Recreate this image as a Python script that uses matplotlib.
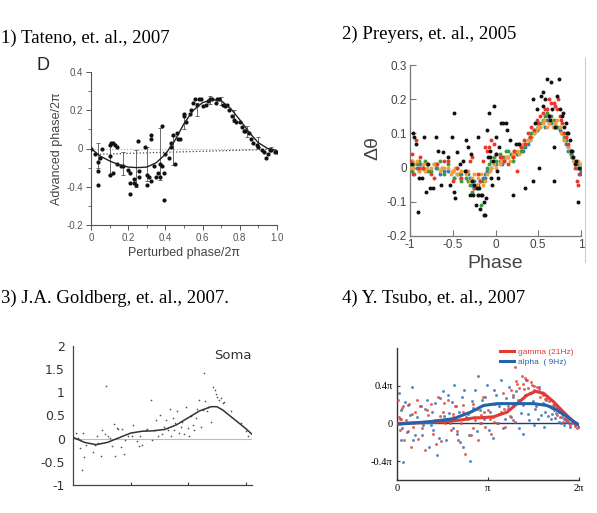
import matplotlib
matplotlib.use("Agg")
import matplotlib.pyplot as plt
from matplotlib.lines import Line2D

# ---------------- Panel 1 data (Tateno) ----------------
p1_x = [0.00, 0.02, 0.04, 0.04, 0.04, 0.05, 0.06, 0.10, 0.11, 0.12, 0.13, 0.14, 0.10, 0.12, 0.10, 0.14,
        0.16, 0.17, 0.20, 0.21, 0.21, 0.21, 0.23, 0.23, 0.24, 0.25, 0.26, 0.26, 0.29, 0.30, 0.30, 0.31,
        0.32, 0.32, 0.32, 0.34, 0.35, 0.36, 0.37, 0.37, 0.38, 0.38, 0.39, 0.39, 0.40, 0.42, 0.43, 0.43,
        0.44, 0.45, 0.46, 0.47, 0.48, 0.50, 0.50, 0.51, 0.53, 0.54, 0.55, 0.56, 0.57, 0.58, 0.59, 0.60,
        0.62, 0.63, 0.64, 0.65, 0.67, 0.68, 0.69, 0.71, 0.72, 0.73, 0.74, 0.76, 0.77, 0.78, 0.80, 0.81,
        0.82, 0.83, 0.85, 0.86, 0.87, 0.89, 0.90, 0.92, 0.93, 0.94, 0.95, 0.96, 0.97, 0.99, 1.00]
p1_y = [0.00, -0.03, -0.07, -0.12, -0.19, -0.05, 0.00, 0.02, 0.03, 0.03, 0.02, 0.01, -0.14, -0.13, -0.04, -0.08,
        -0.09, -0.09, -0.11, -0.13, -0.18, -0.24, -0.16, -0.18, -0.19, 0.04, -0.12, -0.15, 0.01, -0.14, -0.19, -0.15,
        0.07, 0.05, -0.17, -0.09, -0.15, -0.13, -0.15, -0.08, 0.12, -0.09, -0.13, -0.27, -0.03, -0.05, 0.01, 0.03,
        0.07, -0.08, 0.08, 0.05, 0.05, 0.18, 0.17, 0.14, 0.18, 0.20, 0.24, 0.26, 0.23, 0.26, 0.26, 0.22,
        0.23, 0.25, 0.26, 0.26, 0.24, 0.26, 0.26, 0.23, 0.22, 0.23, 0.20, 0.17, 0.15, 0.14, 0.14, 0.11,
        0.09, 0.09, 0.08, 0.05, 0.03, 0.02, 0.01, -0.01, -0.02, -0.05, -0.03, -0.01, -0.01, -0.02, -0.02]
p1_fit_x = [0.0, 0.05, 0.1, 0.15, 0.2, 0.25, 0.3, 0.35, 0.4, 0.45, 0.5, 0.55, 0.6, 0.65, 0.7, 0.75, 0.8, 0.85, 0.9, 0.95, 1.0]
p1_fit_y = [0.0, -0.04, -0.065, -0.085, -0.097, -0.10, -0.097, -0.075, -0.03, 0.04, 0.13, 0.20, 0.24, 0.255, 0.25, 0.21, 0.15, 0.085, 0.03, 0.0, -0.01]
p1_eb_x = [0.04, 0.10, 0.17, 0.24, 0.30, 0.37, 0.44, 0.50, 0.57, 0.64, 0.70, 0.77, 0.84, 0.90, 0.97]
p1_eb_y = [-0.035, -0.06, -0.08, -0.105, -0.08, -0.03, -0.01, 0.14, 0.205, 0.255, 0.25, 0.17, 0.09, 0.035, 0.0]
p1_eb_e = [0.065, 0.08, 0.06, 0.095, 0.09, 0.135, 0.075, 0.04, 0.035, 0.02, 0.02, 0.03, 0.03, 0.025, 0.01]
p1_ref_x = [0.0, 1.0]
p1_ref_y = [0.0, 0.0]
p1_base_x = [0.03, 0.95]
p1_base_y = [-0.03, -0.005]
p1_yticks = [0.4, 0.2, 0.0, -0.2, -0.4]
p1_yticklabels = ["0.4", "0.2", "0", "-0.4", "-0.2"]
p1_xticks = [0, 0.2, 0.4, 0.6, 0.8, 1.0]
p1_xticklabels = ["0", "0.2", "0.4", "0.6", "0.8", "1.0"]

# ---------------- Panel 2 data (Preyers) ----------------
p2_black_x = [-0.96, -0.95, -0.93, -0.91, -0.89, -0.84, -0.81, -0.77, -0.73, -0.70, -0.67, -0.64, -0.61, -0.51,
              -0.49, -0.48, -0.47, -0.45, -0.38, -0.34, -0.30, -0.29, -0.26, -0.23, -0.21, -0.20, -0.18, -0.16,
              -0.14, -0.12, -0.10, -0.08, -0.07, -0.05, -0.04, -0.02, 0.00, 0.01, 0.03, 0.06, 0.09, 0.14, 0.17,
              0.21, 0.28, 0.35, 0.44, 0.44, 0.48, 0.51, 0.53, 0.56, 0.60, 0.65, 0.68, 0.69, 0.74, 0.72, 0.76,
              0.79, 0.82, 0.85, 0.87, 0.89, 0.91, 0.96, 0.93, -0.22, -0.28, 0.55, 0.62,
              -0.98, -0.86, -0.79, -0.56, -0.53, -0.42, -0.36, -0.32, -0.25, -0.19, -0.17, -0.13, -0.11, -0.09,
              -0.06, -0.03, 0.02, 0.04, 0.12, 0.24, 0.46, 0.58, 0.64, 0.66, 0.70, 0.78, 0.80, 0.84, 0.88, 0.94, 0.98]
p2_black_y = [0.10, 0.09, 0.07, -0.13, -0.03, 0.09, -0.07, -0.06, -0.06, 0.09, 0.05, -0.05, 0.045, 0.09,
              0.16, -0.07, -0.09, 0.045, 0.02, 0.08, -0.08, 0.04, -0.08, -0.11, 0.09, -0.08, -0.12, -0.08,
              -0.14, -0.14, 0.11, 0.16, 0.03, -0.03, -0.05, 0.18, 0.04, 0.09, -0.03, 0.13, 0.13, 0.11, 0.08,
              -0.08, 0.07, -0.06, -0.04, 0.20, 0.17, 0.00, 0.21, 0.22, 0.26, 0.25, 0.06, -0.04, 0.26, 0.21, 0.17,
              0.16, 0.13, 0.10, 0.08, 0.05, 0.03, -0.10, 0.01, -0.06, -0.04, 0.18, 0.15,
              0.01, -0.03, 0.01, 0.03, -0.05, 0.01, -0.01, 0.06, -0.05, -0.06, -0.08, -0.10, -0.09, 0.03,
              0.05, 0.02, -0.01, 0.06, 0.13, 0.07, 0.13, 0.20, 0.14, 0.17, 0.12, 0.15, 0.12, 0.10, 0.05, 0.02, 0.00]
p2_red_x = [-1.0, -0.97, -0.93, -0.88, -0.85, -0.75, -0.68, -0.6, -0.5, -0.45, -0.4, -0.3, -0.25, -0.2, -0.15, -0.1,
            -0.05, 0.0, 0.05, 0.1, 0.2, 0.25, 0.3, 0.35, 0.4, 0.45, 0.5, 0.55, 0.6, 0.63, 0.65, 0.7, 0.72, 0.73,
            0.75, 0.78, 0.8, 0.85, 0.9, 0.95, 0.97, 1.0,
            -0.98, -0.9, -0.8, -0.72, -0.55, -0.35, -0.28, -0.18, -0.12, -0.08, -0.02, 0.08, 0.15, 0.22, 0.28, 0.33,
            0.38, 0.42, 0.48, 0.52, 0.58, 0.62, 0.68, 0.77, 0.83, 0.88, 0.93, 0.99]
p2_red_y = [0.02, -0.02, 0.08, 0.03, 0.0, -0.02, 0.01, 0.02, -0.04, 0.0, -0.03, 0.02, -0.06, -0.02, 0.02, 0.05,
            0.08, 0.04, 0.03, 0.02, 0.03, -0.01, 0.06, 0.07, 0.09, 0.11, 0.13, 0.16, 0.17, 0.15, 0.19, 0.18, 0.17, 0.20,
            0.15, 0.13, 0.10, 0.07, 0.03, -0.04, -0.05, 0.0,
            0.04, 0.0, 0.01, -0.03, 0.02, -0.01, 0.03, -0.04, 0.06, 0.06, 0.07, 0.03, 0.01, 0.05, 0.07, 0.08,
            0.10, 0.12, 0.14, 0.15, 0.17, 0.20, 0.19, 0.14, 0.09, 0.05, 0.0, -0.02]
p2_blue_x = [-1.0, -0.95, -0.9, -0.85, -0.8, -0.7, -0.65, -0.6, -0.5, -0.45, -0.4, -0.35, -0.3, -0.25, -0.2, -0.15,
             -0.1, -0.05, 0.0, 0.05, 0.1, 0.15, 0.2, 0.3, 0.35, 0.4, 0.45, 0.5, 0.55, 0.6, 0.65, 0.7, 0.75, 0.8,
             0.85, 0.9, 0.95, 1.0,
             -0.98, -0.92, -0.88, -0.78, -0.72, -0.62, -0.55, -0.48, -0.42, -0.32, -0.28, -0.22, -0.18, -0.12, -0.08,
             -0.02, 0.08, 0.12, 0.25, 0.32, 0.38, 0.42, 0.48, 0.52, 0.58, 0.62, 0.68, 0.72, 0.78, 0.82, 0.88, 0.92, 0.98]
p2_blue_y = [0.0, 0.01, -0.01, 0.0, 0.01, 0.0, -0.02, -0.01, -0.01, -0.02, -0.02, -0.01, -0.03, -0.04, -0.05, -0.03,
             -0.01, 0.0, 0.01, 0.02, 0.02, 0.03, 0.03, 0.05, 0.06, 0.08, 0.10, 0.12, 0.13, 0.14, 0.13, 0.12, 0.11, 0.08,
             0.05, 0.03, 0.0, -0.01,
             0.02, 0.0, 0.01, -0.01, 0.01, 0.0, -0.01, -0.03, -0.02, -0.02, -0.05, -0.06, -0.04, -0.03, -0.01,
             0.01, 0.01, 0.03, 0.04, 0.05, 0.07, 0.09, 0.11, 0.12, 0.12, 0.13, 0.12, 0.12, 0.10, 0.07, 0.04, 0.02, -0.02]
p2_green_x = [-1.0, -0.97, -0.95, -0.9, -0.85, -0.8, -0.7, -0.65, -0.6, -0.5, -0.45, -0.4, -0.35, -0.3, -0.25, -0.2,
              -0.17, -0.15, -0.1, -0.05, 0.0, 0.05, 0.1, 0.15, 0.2, 0.3, 0.35, 0.4, 0.45, 0.5, 0.55, 0.6, 0.65, 0.7,
              0.75, 0.8, 0.85, 0.9, 0.95, 1.0,
              -0.98, -0.92, -0.82, -0.75, -0.68, -0.55, -0.48, -0.42, -0.32, -0.28, -0.22, -0.12, -0.08, -0.02, 0.08,
              0.12, 0.18, 0.25, 0.32, 0.38, 0.42, 0.48, 0.52, 0.58, 0.62, 0.68, 0.72, 0.78, 0.82, 0.88, 0.92, 0.98]
p2_green_y = [0.01, 0.0, -0.02, 0.02, 0.0, -0.01, 0.01, 0.02, -0.02, -0.01, 0.0, -0.04, -0.03, -0.05, -0.06, -0.08,
              -0.11, -0.04, 0.0, 0.02, 0.02, 0.04, 0.03, 0.05, 0.02, 0.05, 0.07, 0.09, 0.11, 0.12, 0.14, 0.16, 0.15, 0.13,
              0.12, 0.09, 0.06, 0.03, 0.01, 0.01,
              -0.01, 0.01, 0.02, -0.01, 0.0, 0.01, -0.03, -0.02, -0.04, -0.07, -0.05, -0.02, 0.01, 0.03, 0.03,
              0.05, 0.04, 0.04, 0.06, 0.08, 0.10, 0.11, 0.13, 0.15, 0.15, 0.14, 0.12, 0.10, 0.08, 0.04, 0.02, 0.0]
p2_orange_x = [-1.0, -0.98, -0.95, -0.9, -0.85, -0.8, -0.75, -0.7, -0.65, -0.6, -0.55, -0.5, -0.45, -0.4, -0.35, -0.3,
               -0.25, -0.2, -0.15, -0.1, -0.05, 0.0, 0.05, 0.1, 0.15, 0.2, 0.25, 0.3, 0.35, 0.4, 0.45, 0.5, 0.55,
               0.6, 0.65, 0.7, 0.75, 0.8, 0.85, 0.9, 0.95, 1.0,
               -0.97, -0.92, -0.87, -0.82, -0.72, -0.62, -0.52, -0.47, -0.42, -0.32, -0.27, -0.22, -0.17, -0.12,
               -0.07, -0.02, 0.07, 0.12, 0.17, 0.22, 0.28, 0.32, 0.38, 0.42, 0.47, 0.52, 0.57, 0.62, 0.67, 0.72,
               0.77, 0.82, 0.87, 0.92, 0.97]
p2_orange_y = [0.0, 0.02, 0.01, -0.01, 0.01, 0.0, 0.0, 0.01, -0.01, 0.0, 0.0, -0.01, -0.02, -0.01, -0.02, -0.04,
               -0.02, -0.03, -0.05, -0.02, 0.0, 0.0, 0.01, 0.02, 0.03, 0.04, 0.05, 0.06, 0.07, 0.08, 0.10, 0.12, 0.13,
               0.12, 0.14, 0.13, 0.12, 0.08, 0.06, 0.03, 0.0, 0.01,
               0.0, 0.02, 0.0, -0.01, 0.01, 0.0, -0.02, 0.0, -0.03, -0.01, -0.03, -0.05, -0.02, -0.04,
               -0.01, 0.01, 0.02, 0.03, 0.02, 0.05, 0.04, 0.07, 0.08, 0.09, 0.11, 0.12, 0.14, 0.13, 0.12, 0.14,
               0.10, 0.09, 0.05, 0.02, 0.02]
p2_ticks_y = [-0.2, -0.1, 0, 0.1, 0.2, 0.3]
p2_ticklabels_y = ["-0.2", "-0.1", "0", "0.1", "0.2", "0.3"]
p2_ticks_x = [-1, -0.5, 0, 0.5, 1]
p2_ticklabels_x = ["-1", "-0.5", "0", "0.5", "1"]

# ---------------- Panel 3 data (Goldberg) ----------------
p3_x = [0.06, 0.09, 0.12, 0.13, 0.15, 0.18, 0.19, 0.23, 0.34, 0.38, 0.41, 0.44, 0.48, 0.50, 0.56, 0.57, 0.61, 0.64,
        0.67, 0.71, 0.73, 0.76, 0.79, 0.83, 0.85, 0.88, 0.91, 0.96, 1.02, 1.05, 1.11, 1.14, 1.17, 1.20, 1.26, 1.29,
        1.35, 1.37, 1.42, 1.45, 1.47, 1.52, 1.55, 1.58, 1.61, 1.65, 1.68, 1.70, 1.73, 1.75, 1.78, 1.81, 1.84, 1.87,
        1.90, 1.93, 1.96, 1.99, 2.02, 2.05, 2.08, 2.11, 2.13, 2.16, 2.19, 2.22, 2.25, 2.27, 2.29, 2.33, 2.35, 2.39,
        2.43, 2.46, 2.49, 2.51, 2.54, 2.57, 2.60, 2.63, 2.75, 2.92, 3.01, 3.04]
p3_y = [0.12, 0.01, -0.02, -0.20, -0.67, 0.12, -0.40, -0.13, -0.29, -0.13, 0.05, -0.09, -0.37, 0.19, 0.09, 1.14, 0.05, 0.01,
        -0.16, 0.32, -0.38, 0.23, 0.21, -0.18, 0.21, -0.34, -0.02, 0.05, 0.05, 0.30, -0.06, -0.16, 0.05, -0.13, 0.19, 0.21,
        0.84, -0.02, 0.19, 0.41, 0.05, 0.52, 0.09, 0.26, 0.41, 0.19, 0.64, 0.05, 0.44, 0.19, 0.34, 0.59, 0.12, 0.26,
        0.37, 0.09, 0.69, 0.23, 0.05, 0.48, 0.30, 0.19, 0.44, 0.64, 0.84, 0.26, 0.62, 1.42, 0.82, 0.59, 0.69, 0.37,
        1.11, 1.04, 0.97, 0.91, 0.84, 0.87, 0.77, 0.80, 0.59, 0.34, 0.16, 0.06]
p3_fit_x = [0.0, 0.2, 0.4, 0.6, 0.8, 1.0, 1.2, 1.4, 1.6, 1.8, 2.0, 2.2, 2.4, 2.5, 2.6, 2.8, 3.0, 3.14]
p3_fit_y = [0.03, -0.08, -0.13, -0.08, 0.02, 0.12, 0.16, 0.17, 0.20, 0.30, 0.45, 0.60, 0.69, 0.69, 0.62, 0.42, 0.22, 0.06]
p3_ref_x = [0.0, 3.14]
p3_ref_y = [0.0, 0.0]
p3_yticks = [-1, -0.5, 0, 0.5, 1, 1.5, 2]
p3_yticklabels = ["-1", "-0.5", "0", "0.5", "1", "1.5", "2"]
p3_xticks = [1, 2, 3]

# ---------------- Panel 4 data (Tsubo), x and y in units of pi ----------------
p4_blue_x = [0.02, 0.04, 0.04, 0.07, 0.09, 0.11, 0.14, 0.16, 0.18, 0.22, 0.25, 0.27, 0.29, 0.33, 0.35, 0.38, 0.40,
             0.44, 0.47, 0.49, 0.51, 0.54, 0.57, 0.60, 0.63, 0.66, 0.68, 0.71, 0.73, 0.76, 0.79, 0.80, 0.84, 0.86,
             0.89, 0.92, 0.93, 0.96, 0.99, 1.01, 1.04, 1.07, 1.10, 1.12, 1.14, 1.17, 1.20, 1.23, 1.25, 1.28, 1.31,
             1.34, 1.36, 1.39, 1.42, 1.45, 1.47, 1.50, 1.53, 1.56, 1.58, 1.61, 1.64, 1.67, 1.69, 1.72, 1.75, 1.78,
             1.81, 1.84, 1.87, 1.90, 1.92, 1.96, 2.00,
             0.03, 0.06, 0.12, 0.20, 0.24, 0.31, 0.37, 0.42, 0.46, 0.52, 0.56, 0.61, 0.65, 0.69, 0.74, 0.78, 0.82,
             0.88, 0.91, 0.97, 1.02, 1.06, 1.09, 1.15, 1.19, 1.22, 1.27, 1.30, 1.33, 1.38, 1.41, 1.44, 1.49, 1.52,
             1.55, 1.60, 1.63, 1.66, 1.70, 1.74, 1.77, 1.80, 1.83, 1.86, 1.89, 1.93, 1.97]
p4_blue_y = [0.32, 0.14, -0.18, -0.41, 0.23, -0.09, 0.09, 0.39, -0.18, 0.07, 0.19, -0.12, -0.02, 0.25, -0.25, 0.12, -0.07,
             -0.34, 0.27, 0.02, 0.34, -0.18, 0.11, 0.23, 0.41, -0.11, 0.12, 0.28, -0.25, 0.07, -0.12, -0.40, 0.16, 0.35,
             0.50, 0.00, 0.25, 0.05, 0.41, -0.07, 0.21, 0.35, 0.00, 0.18, 0.46, -0.05, 0.27, 0.39, 0.07, 0.19, 0.34,
             -0.05, 0.11, -0.11, 0.46, 0.04, 0.32, -0.02, 0.18, 0.39, 0.09, -0.04, 0.25, 0.18, 0.05, 0.19, 0.11, 0.02,
             0.07, -0.02, 0.04, -0.04, 0.00, -0.02, -0.04,
             0.05, -0.05, 0.20, -0.12, 0.02, 0.15, -0.02, 0.22, -0.15, 0.08, 0.30, -0.05, 0.18, -0.20, 0.35, 0.10, 0.24,
             -0.08, 0.14, 0.28, 0.12, -0.15, 0.30, 0.22, 0.05, 0.15, 0.28, 0.02, 0.25, 0.20, 0.30, 0.10, 0.24, 0.15,
             0.05, 0.22, 0.12, 0.08, 0.10, 0.06, 0.15, 0.00, 0.05, 0.02, 0.00, 0.02, 0.00]
p4_red_x = [0.01, 0.02, 0.03, 0.05, 0.08, 0.10, 0.13, 0.15, 0.18, 0.20, 0.23, 0.26, 0.29, 0.31, 0.34, 0.37, 0.40, 0.42,
            0.45, 0.48, 0.51, 0.53, 0.56, 0.59, 0.62, 0.64, 0.67, 0.70, 0.73, 0.75, 0.78, 0.81, 0.84, 0.86, 0.89, 0.92,
            0.95, 0.97, 1.00, 1.03, 1.05, 1.08, 1.11, 1.14, 1.16, 1.19, 1.22, 1.25, 1.27, 1.30, 1.32, 1.35, 1.37, 1.40,
            1.43, 1.46, 1.48, 1.51, 1.54, 1.57, 1.59, 1.62, 1.65, 1.68, 1.70, 1.73, 1.76, 1.79, 1.82, 1.86, 1.90, 1.94,
            1.98,
            0.04, 0.07, 0.12, 0.17, 0.22, 0.27, 0.33, 0.36, 0.43, 0.47, 0.52, 0.58, 0.61, 0.66, 0.72, 0.77, 0.83,
            0.88, 0.91, 0.96, 1.02, 1.07, 1.12, 1.18, 1.24, 1.28, 1.31, 1.34, 1.38, 1.41, 1.44, 1.47, 1.50, 1.53,
            1.56, 1.60, 1.63, 1.67, 1.71, 1.75, 1.78, 1.81, 1.85, 1.88, 1.92, 1.96]
p4_red_y = [0.25, 0.07, -0.07, 0.16, -0.18, 0.04, 0.21, -0.25, -0.04, 0.12, -0.16, 0.19, 0.02, -0.28, 0.09, 0.21, -0.11, 0.04,
            0.28, -0.19, 0.12, 0.00, 0.25, -0.07, 0.07, 0.19, -0.18, 0.00, 0.12, -0.32, 0.05, -0.12, 0.21, 0.04, -0.18, 0.09,
            0.28, -0.04, 0.14, -0.11, 0.07, 0.21, 0.00, 0.12, 0.32, -0.04, 0.18, 0.35, 0.04, 0.60, 0.42, 0.25, 0.50, 0.37,
            0.46, 0.32, 0.41, 0.35, 0.39, 0.28, 0.32, 0.21, 0.27, 0.19, 0.16, 0.14, 0.09, 0.07, 0.02, 0.04, -0.02, 0.00,
            -0.05,
            0.05, 0.18, -0.08, 0.10, 0.25, -0.05, 0.14, 0.02, -0.22, 0.08, 0.22, 0.00, 0.10, -0.08, 0.20, 0.06, -0.05,
            0.15, 0.00, 0.12, 0.05, 0.02, 0.10, 0.15, 0.08, 0.30, 0.45, 0.38, 0.42, 0.48, 0.38, 0.44, 0.40, 0.34,
            0.36, 0.30, 0.26, 0.24, 0.20, 0.16, 0.12, 0.10, 0.06, 0.03, 0.02, -0.03]
p4_red_fit_x = [0.0, 0.37, 0.55, 0.73, 0.85, 0.92, 1.06, 1.21, 1.32, 1.43, 1.52, 1.61, 1.72, 1.83, 1.92, 2.0]
p4_red_fit_y = [0.0, 0.01, 0.02, 0.04, 0.06, 0.06, 0.07, 0.12, 0.21, 0.30, 0.34, 0.32, 0.23, 0.12, 0.035, -0.02]
p4_blue_fit_x = [0.0, 0.37, 0.62, 0.81, 0.95, 1.1, 1.28, 1.5, 1.65, 1.76, 1.87, 2.0]
p4_blue_fit_y = [-0.01, 0.02, 0.05, 0.12, 0.19, 0.21, 0.21, 0.21, 0.19, 0.14, 0.07, -0.02]
p4_ref_x = [0.0, 2.0]
p4_ref_y = [0.0, 0.0]
p4_yticks = [-0.4, 0, 0.4]
p4_yticklabels = ["-0.4\u03c0", "0", "0.4\u03c0"]
p4_xticks = [0, 1, 2]
p4_xticklabels = ["0", "\u03c0", "2\u03c0"]
p4_legend = ["gamma (21Hz)", "alpha  ( 9Hz)"]

titles = ["1) Tateno, et. al., 2007", "2) Preyers, et. al., 2005",
          "3) J.A. Goldberg, et. al., 2007.", "4) Y. Tsubo, et. al., 2007"]

# ---------------- Figure ----------------
W, H = 597, 513
fig = plt.figure(figsize=(W / 100, H / 100), dpi=100)
fig.patch.set_facecolor("white")


def rect(l, t, r, b):
    return [l / W, 1 - b / H, (r - l) / W, (b - t) / H]


SERIF = "Liberation Serif"
SANS = "Liberation Sans"
TFS = 13.5

# titles
fig.text(1 / W, 1 - 43 / H, titles[0], fontsize=TFS, family=SERIF, va="baseline", ha="left")
fig.text(342 / W, 1 - 39 / H, titles[1], fontsize=TFS, family=SERIF, va="baseline", ha="left")
fig.text(1 / W, 1 - 303 / H, titles[2], fontsize=TFS, family=SERIF, va="baseline", ha="left")
fig.text(342 / W, 1 - 303 / H, titles[3], fontsize=TFS, family=SERIF, va="baseline", ha="left")

# ---- Panel 1 ----
ax1 = fig.add_axes(rect(91, 72, 277, 225))
ax1.plot(p1_ref_x, p1_ref_y, color="#aaaaaa", lw=0.8, ls=":")
ax1.plot(p1_base_x, p1_base_y, color="#444444", lw=0.9, ls=":")
ax1.errorbar(p1_eb_x, p1_eb_y, yerr=p1_eb_e, fmt="none", ecolor="#555555", elinewidth=0.6, capsize=1.5, capthick=0.6)
ax1.scatter(p1_x, p1_y, s=9, color="#111111", linewidths=0, zorder=3)
ax1.plot(p1_fit_x, p1_fit_y, color="#222222", lw=1.0, zorder=4)
ax1.set_xlim(0, 1.0)
ax1.set_ylim(-0.4, 0.4)
ax1.set_yticks(p1_yticks)
ax1.set_yticklabels(p1_yticklabels)
ax1.set_xticks(p1_xticks)
ax1.set_xticklabels(p1_xticklabels)
ax1.set_yticks([0.3, 0.1, -0.1, -0.3], minor=True)
ax1.set_xticks([0.1, 0.3, 0.5, 0.7, 0.9], minor=True)
for s in ["top", "right"]:
    ax1.spines[s].set_visible(False)
for s in ["left", "bottom"]:
    ax1.spines[s].set_color("#555555")
    ax1.spines[s].set_linewidth(0.8)
ax1.tick_params(which="major", length=3.5, width=0.7, color="#555555", labelsize=7, labelcolor="#555555", pad=2)
ax1.tick_params(which="minor", length=2, width=0.6, color="#555555")
for lab in ax1.get_xticklabels() + ax1.get_yticklabels():
    lab.set_family(SANS)
ax1.set_xlabel("Perturbed phase/2\u03c0", fontsize=9, family=SANS, color="#444444", labelpad=3)
ax1.set_ylabel("Advanced phase/2\u03c0", fontsize=9, family=SANS, color="#444444", labelpad=3)
fig.text(43 / W, 1 - 65 / H, "D", fontsize=13, family=SANS, ha="center", va="center", color="#222222")

# ---- Panel 2 ----
ax2 = fig.add_axes(rect(410, 65, 581, 236))
MS2 = 8
ax2.scatter(p2_blue_x, p2_blue_y, s=MS2, color="#2b7bbf", linewidths=0, zorder=3)
ax2.scatter(p2_green_x, p2_green_y, s=MS2, color="#3a9a40", linewidths=0, zorder=3)
ax2.scatter(p2_orange_x, p2_orange_y, s=MS2, color="#f2a13a", linewidths=0, zorder=3)
ax2.scatter(p2_red_x, p2_red_y, s=MS2, color="#e8382e", linewidths=0, zorder=3)
ax2.scatter(p2_black_x, p2_black_y, s=MS2, color="#111111", linewidths=0, zorder=4)
ax2.set_xlim(-1, 1)
ax2.set_ylim(-0.2, 0.3)
ax2.set_xticks(p2_ticks_x)
ax2.set_xticklabels(p2_ticklabels_x)
ax2.set_yticks(p2_ticks_y)
ax2.set_yticklabels(p2_ticklabels_y)
for s in ["top", "right"]:
    ax2.spines[s].set_visible(False)
for s in ["left", "bottom"]:
    ax2.spines[s].set_color("#777777")
    ax2.spines[s].set_linewidth(0.9)
ax2.tick_params(direction="in", length=4, width=0.8, color="#777777", labelsize=8.5, labelcolor="#444444", pad=2)
for lab in ax2.get_xticklabels() + ax2.get_yticklabels():
    lab.set_family(SANS)
fig.text(495 / W, 1 - 263 / H, "Phase", fontsize=14, family=SANS, ha="center", va="center", color="#444444")
fig.text(373 / W, 1 - 148 / H, "\u0394\u03b8", fontsize=14, family=SANS, ha="center", va="center",
         rotation=90, color="#444444")
fig.add_artist(Line2D([585 / W, 585 / W], [1 - 58 / H, 1 - 262 / H], color="#cccccc", lw=0.8))

# ---- Panel 3 ----
ax3 = fig.add_axes(rect(73, 346, 252, 485))
ax3.plot(p3_ref_x, p3_ref_y, color="#bbbbbb", lw=0.8)
ax3.scatter(p3_x, p3_y, s=1.5, color="#555555", linewidths=0, zorder=3)
ax3.plot(p3_fit_x, p3_fit_y, color="#333333", lw=1.1, zorder=4)
ax3.set_xlim(0, 3.11)
ax3.set_ylim(-1, 2)
ax3.set_yticks(p3_yticks)
ax3.set_yticklabels(p3_yticklabels)
ax3.set_xticks(p3_xticks)
ax3.set_xticklabels([])
for s in ["top", "right"]:
    ax3.spines[s].set_visible(False)
for s in ["left", "bottom"]:
    ax3.spines[s].set_color("#444444")
    ax3.spines[s].set_linewidth(0.9)
ax3.tick_params(axis="y", length=0, labelsize=9, labelcolor="#333333", pad=6)
ax3.tick_params(axis="x", direction="in", length=2.5, width=0.8, color="#444444")
for lab in ax3.get_yticklabels():
    lab.set_family("DejaVu Sans")
ax3.text(1.0, 0.935, "Soma", transform=ax3.transAxes, ha="right", va="center", fontsize=9.5,
         family="DejaVu Sans", color="#333333")

# ---- Panel 4 ----
ax4 = fig.add_axes(rect(397, 348, 579, 480))
ax4.plot(p4_ref_x, p4_ref_y, color="#2b3a55", lw=1.0, zorder=2)
ax4.scatter(p4_blue_x, p4_blue_y, s=4.5, color="#3a74b8", linewidths=0, alpha=0.85, zorder=3)
ax4.scatter(p4_red_x, p4_red_y, s=4.5, color="#e2453f", linewidths=0, alpha=0.85, zorder=3)
l_red, = ax4.plot(p4_red_fit_x, p4_red_fit_y, color="#e03a33", lw=2.2, zorder=4)
l_blue, = ax4.plot(p4_blue_fit_x, p4_blue_fit_y, color="#2563a8", lw=2.2, zorder=5)
ax4.set_xlim(0, 2)
ax4.set_ylim(-0.6, 0.8)
ax4.set_xticks(p4_xticks)
ax4.set_xticklabels(p4_xticklabels)
ax4.set_yticks(p4_yticks)
ax4.set_yticklabels(p4_yticklabels)
for s in ["top", "right"]:
    ax4.spines[s].set_visible(False)
for s in ["left", "bottom"]:
    ax4.spines[s].set_color("#333333")
    ax4.spines[s].set_linewidth(1.0)
ax4.tick_params(direction="in", length=2.5, width=0.8, color="#333333", labelsize=7.5, pad=3)
for lab in ax4.get_xticklabels() + ax4.get_yticklabels():
    lab.set_family(SERIF)
leg = ax4.legend([l_red, l_blue], p4_legend, loc="upper right", bbox_to_anchor=(1.0, 1.04), frameon=False,
                 fontsize=6, handlelength=1.6, handletextpad=0.6, labelspacing=0.35, borderaxespad=0.2)
for txt, c in zip(leg.get_texts(), ["#e03a33", "#2563a8"]):
    txt.set_color(c)
    txt.set_family(SANS)

fig.savefig("out.png", dpi=100)
